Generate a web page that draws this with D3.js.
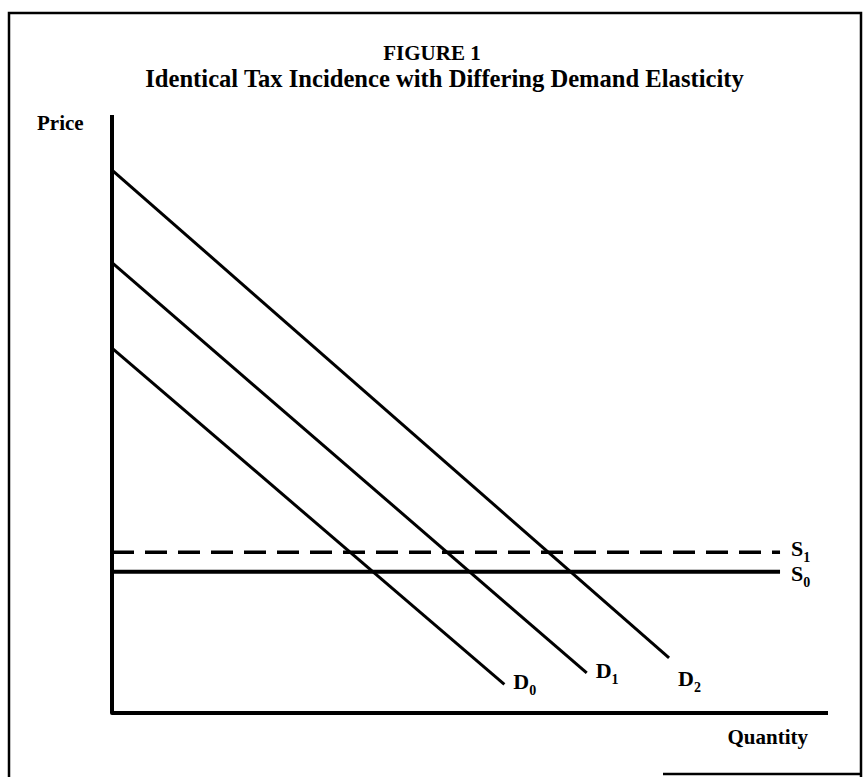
<!DOCTYPE html>
<html>
<head>
<meta charset="utf-8">
<script src="https://cdn.jsdelivr.net/npm/d3@7"></script>
<style>
  body { margin: 0; background: #fff; }
  text { font-family: "Liberation Serif", "Times New Roman", serif; font-weight: bold; fill: #000; }
</style>
</head>
<body>
<script>
//chart values (quantity and price in arbitrary units 0-100)
var demandNames = ["D", "D", "D"];
var demandSubs = ["0", "1", "2"];
var demandStartPrice = [61.0, 75.3, 90.8];
var demandEndQuantity = [54.8, 66.3, 77.8];
var demandEndPrice = [4.8, 6.7, 9.2];

var supplyNames = ["S", "S"];
var supplySubs = ["0", "1"];
var supplyPrices = [23.6, 26.9];
var supplyEndQuantity = [93.3, 93.3];
var supplyDashed = [false, true];

var titleLines = ["FIGURE 1", "Identical Tax Incidence with Differing Demand Elasticity"];
var yLabel = "Price";
var xLabel = "Quantity";

var width = 863;
var height = 777;

var svg = d3.select("body").append("svg")
	.attr("width", width)
	.attr("height", height);

//scales for the plot area
var x = d3.scaleLinear().domain([0, 100]).range([112, 828]);
var y = d3.scaleLinear().domain([0, 100]).range([713, 115]);

//frame round the figure (the bottom edge is mostly cut off in the scan)
svg.append("path")
	.attr("d", "M9,777 L9,13 L861,13 L861,777")
	.style("fill", "none")
	.style("stroke", "#000")
	.style("stroke-width", 2.5);
svg.append("line")
	.attr("x1", 663).attr("y1", 774)
	.attr("x2", 862).attr("y2", 774)
	.style("stroke", "#000")
	.style("stroke-width", 2.5);

//titles
svg.append("text")
	.attr("x", 432)
	.attr("y", 60)
	.attr("text-anchor", "middle")
	.style("font-size", "21px")
	.text(titleLines[0]);
svg.append("text")
	.attr("x", 444.5)
	.attr("y", 87)
	.attr("text-anchor", "middle")
	.style("font-size", "24.6px")
	.text(titleLines[1]);

//axes, drawn as one line with a rounded corner
svg.append("path")
	.attr("d", "M" + x(0) + "," + y(100) + " L" + x(0) + "," + y(0) + " L" + x(100) + "," + y(0))
	.style("fill", "none")
	.style("stroke", "#000")
	.style("stroke-width", 4)
	.style("stroke-linejoin", "round");

svg.append("text")
	.attr("x", 37)
	.attr("y", 130)
	.style("font-size", "21px")
	.text(yLabel);

svg.append("text")
	.attr("x", 808)
	.attr("y", 744)
	.attr("text-anchor", "end")
	.style("font-size", "21px")
	.text(xLabel);

//supply curves
supplyPrices.forEach(function(p, i) {
	svg.append("line")
		.attr("x1", x(0))
		.attr("y1", y(p))
		.attr("x2", x(supplyEndQuantity[i]))
		.attr("y2", y(p))
		.style("stroke", "#000")
		.style("stroke-width", supplyDashed[i] ? 3.5 : 4)
		.style("stroke-dasharray", supplyDashed[i] ? "22,11" : null);

	var label = svg.append("text")
		.attr("x", x(supplyEndQuantity[i]) + 11)
		.attr("y", y(p) + (supplyDashed[i] ? 4 : 9))
		.style("font-size", "22px");
	label.append("tspan").text(supplyNames[i]);
	label.append("tspan")
		.attr("dy", 6)
		.style("font-size", "14px")
		.text(supplySubs[i]);
});

//demand curves
demandStartPrice.forEach(function(p, i) {
	svg.append("line")
		.attr("x1", x(0))
		.attr("y1", y(p))
		.attr("x2", x(demandEndQuantity[i]))
		.attr("y2", y(demandEndPrice[i]))
		.style("stroke", "#000")
		.style("stroke-width", 3);

	var label = svg.append("text")
		.attr("x", x(demandEndQuantity[i]) + 9)
		.attr("y", y(demandEndPrice[i]) + (i == 2 ? 28 : 5))
		.style("font-size", "22px");
	label.append("tspan").text(demandNames[i]);
	label.append("tspan")
		.attr("dy", 6)
		.style("font-size", "14px")
		.text(demandSubs[i]);
});
</script>
</body>
</html>
